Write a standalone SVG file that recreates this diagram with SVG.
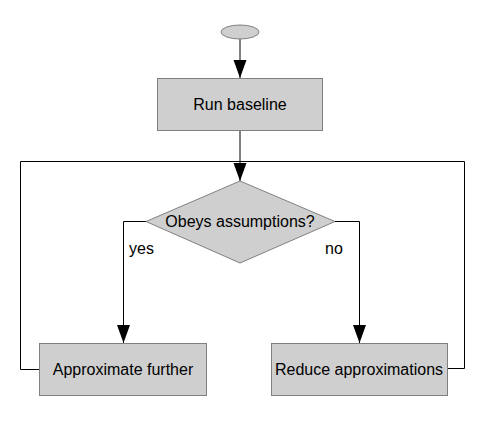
<svg xmlns="http://www.w3.org/2000/svg" width="483" height="421" viewBox="0 0 483 421">
<style>
.n{fill:#cfcfcf;stroke:#808080;stroke-width:1}
.c{fill:none;stroke:#000;stroke-width:1}
.h{fill:#000}
text{font-family:"Liberation Sans",Arial,sans-serif;font-size:16px;fill:#000}
.m{text-anchor:middle}
</style>
<g id="connectors">
<path class="c" d="M240,39 V78"/>
<path class="h" d="M233.5,60 L246.5,60 L240,78 Z"/>
<path class="c" d="M240,131 V181"/>
<path class="h" d="M233.5,163 L246.5,163 L240,181 Z"/>
<path class="c" d="M146,221.5 H123.5 V343"/>
<path class="h" d="M117,325 L130,325 L123.5,343 Z"/>
<path class="c" d="M335,221.5 H359.5 V343"/>
<path class="h" d="M353,325 L366,325 L359.5,343 Z"/>
<path class="c" d="M39,369.5 H20.5 V161.5 H464.5 V368.5 H448"/>
<text x="129" y="254">yes</text>
<text x="325" y="254">no</text>
</g>
<g id="start"><ellipse class="n" cx="240" cy="32" rx="19" ry="7"/></g>
<g id="run"><rect class="n" x="157.5" y="78.5" width="165" height="52"/><text class="m" x="240" y="110">Run baseline</text></g>
<g id="decision"><polygon class="n" points="240,181 335,221.5 240,263 146,221.5"/><text class="m" x="240" y="227">Obeys assumptions?</text></g>
<g id="approx"><rect class="n" x="39.5" y="343.5" width="167" height="52"/><text class="m" x="123" y="375">Approximate further</text></g>
<g id="reduce"><rect class="n" x="271.5" y="343.5" width="176" height="52"/><text class="m" x="359" y="375">Reduce approximations</text></g>
</svg>
